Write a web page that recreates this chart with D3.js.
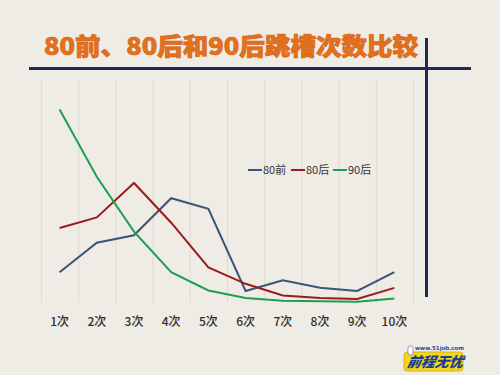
<!DOCTYPE html>
<html>
<head>
<meta charset="utf-8">
<script src="https://cdn.jsdelivr.net/npm/d3@7"></script>
<style>
  html, body { margin: 0; padding: 0; background: #eeece4; }
  svg { display: block; font-family: "Noto Sans CJK SC", "Noto Sans", sans-serif; }
</style>
</head>
<body>
<div id="chart"></div>
<script>
// categories and series (percent)
const categories = ["1次", "2次", "3次", "4次", "5次", "6次", "7次", "8次", "9次", "10次"];
const seriesNames = ["80前", "80后", "90后"];
const before80 = [6.9, 13.5, 15.2, 23.5, 21.1, 2.7, 5.1, 3.4, 2.7, 6.9];
const after80 = [16.8, 19.2, 26.9, 18.0, 8.0, 4.3, 1.7, 1.1, 0.9, 3.4];
const after90 = [43.4, 28.3, 16.0, 6.9, 2.8, 1.1, 0.5, 0.4, 0.3, 1.0];
const colors = ["#3c5478", "#9a1c1c", "#1e9e50"];

const width = 500, height = 375;
const svg = d3.select("#chart")
  .append("svg")
  .attr("width", width)
  .attr("height", height);

svg.append("rect")
  .attr("width", width)
  .attr("height", height)
  .attr("fill", "#eeece4");

// plot area
const x = d3.scaleBand().domain(categories).range([41, 413]);
const y = d3.scaleLinear().domain([0, 50]).range([303, 80]);

// vertical gridlines at band edges
const edges = categories.map(c => x(c)).concat([x.range()[1]]);
svg.append("g")
  .selectAll("line")
  .data(edges)
  .enter().append("line")
  .attr("x1", d => d + 0.5)
  .attr("x2", d => d + 0.5)
  .attr("y1", y(50))
  .attr("y2", y(0))
  .attr("stroke", "#dddbd3")
  .attr("stroke-width", 1);

// x axis labels, no axis line
const xAxis = svg.append("g")
  .attr("transform", `translate(0,${y(0)})`)
  .call(d3.axisBottom(x).tickSize(0).tickPadding(14));
xAxis.select(".domain").remove();
xAxis.selectAll("text")
  .attr("font-size", 12)
  .attr("font-weight", 500)
  .attr("fill", "#2e2e2e")
  .style("font-family", "'Noto Sans CJK SC', sans-serif");

// lines
const line = d3.line()
  .x((d, i) => x(categories[i]) + x.bandwidth() / 2)
  .y(d => y(d));

[before80, after80, after90].forEach((s, k) => {
  svg.append("path")
    .datum(s)
    .attr("fill", "none")
    .attr("stroke", colors[k])
    .attr("stroke-width", 2)
    .attr("stroke-linejoin", "miter")
    .attr("d", line);
});

// legend
const legendX = [248, 291, 333];
const legend = svg.append("g").attr("transform", "translate(0,170)");
seriesNames.forEach((name, k) => {
  legend.append("line")
    .attr("x1", legendX[k]).attr("x2", legendX[k] + 14)
    .attr("y1", 0).attr("y2", 0)
    .attr("stroke", colors[k])
    .attr("stroke-width", 2);
  legend.append("text")
    .attr("x", legendX[k] + 15)
    .attr("y", 4)
    .attr("font-size", 11)
    .attr("fill", "#333")
    .text(name);
});

// title and frame lines
svg.append("text")
  .attr("x", 44)
  .attr("y", 55)
  .attr("font-size", 24)
  .attr("font-weight", 900)
  .attr("fill", "#e2711d")
  .attr("stroke", "#d86516")
  .attr("stroke-width", 0.7)
  .attr("textLength", 374)
  .attr("lengthAdjust", "spacingAndGlyphs")
  .text("80前、80后和90后跳槽次数比较");

svg.append("line")
  .attr("x1", 29).attr("x2", 471)
  .attr("y1", 68.5).attr("y2", 68.5)
  .attr("stroke", "#1f2a4f")
  .attr("stroke-width", 3);

svg.append("line")
  .attr("x1", 426.5).attr("x2", 426.5)
  .attr("y1", 38).attr("y2", 297)
  .attr("stroke", "#1f2a4f")
  .attr("stroke-width", 3);

// 51job logo
const logo = svg.append("g").attr("transform", "translate(404,345)");
logo.append("text")
  .attr("x", 11).attr("y", 5)
  .attr("font-size", 5.5)
  .attr("font-weight", "bold")
  .attr("fill", "#1f4aa0")
  .style("font-family", "'DejaVu Sans', sans-serif")
  .text("www.51job.com");
logo.append("rect")
  .attr("x", 0).attr("y", 7)
  .attr("width", 59).attr("height", 19)
  .attr("rx", 3)
  .attr("fill", "#f3d51c")
  .attr("stroke", "#c8a812")
  .attr("stroke-width", 0.8);
logo.append("rect")
  .attr("x", 4).attr("y", 1)
  .attr("width", 5).attr("height", 9)
  .attr("rx", 2)
  .attr("fill", "#fff")
  .attr("stroke", "#5a6a8a")
  .attr("stroke-width", 0.6);
logo.append("text")
  .attr("x", 31).attr("y", 22)
  .attr("text-anchor", "middle")
  .attr("font-size", 14)
  .attr("font-weight", 900)
  .attr("font-style", "italic")
  .attr("fill", "#1a3f8f")
  .attr("transform", "skewX(-12) translate(4,0)")
  .text("前程无忧");
</script>
</body>
</html>
